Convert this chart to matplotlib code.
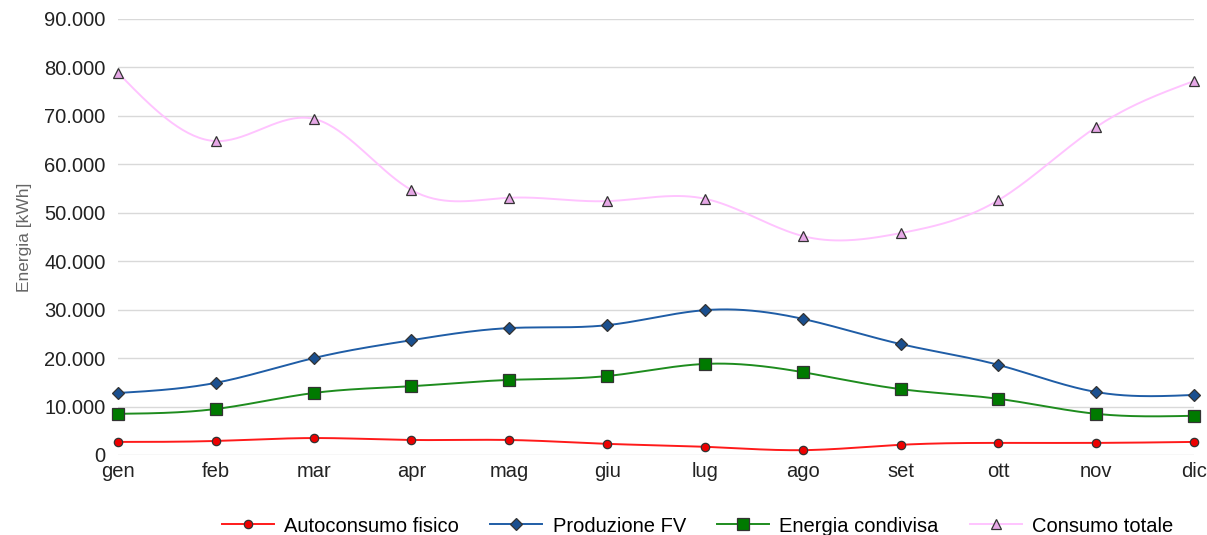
import numpy as np
import matplotlib.pyplot as plt
from matplotlib.ticker import FuncFormatter

plt.rcParams['font.family'] = ['Liberation Sans', 'DejaVu Sans']

mesi = ['gen', 'feb', 'mar', 'apr', 'mag', 'giu', 'lug', 'ago', 'set', 'ott', 'nov', 'dic']
autoconsumo = [2700, 2900, 3500, 3100, 3100, 2300, 1700, 1000, 2100, 2500, 2500, 2700]
produzione = [12800, 14900, 20000, 23700, 26200, 26800, 29900, 28100, 22900, 18600, 13000, 12400]
condivisa = [8500, 9500, 12800, 14200, 15500, 16300, 18800, 17100, 13600, 11600, 8500, 8100]
consumo = [78900, 64800, 69400, 54700, 53100, 52400, 52900, 45200, 45800, 52600, 67700, 77200]


def spline(x, y, n=400):
    # natural cubic spline, just for drawing the smooth line
    x = np.asarray(x, float)
    y = np.asarray(y, float)
    k = len(x)
    h = np.diff(x)
    A = np.zeros((k, k))
    b = np.zeros(k)
    A[0, 0] = A[-1, -1] = 1
    for i in range(1, k - 1):
        A[i, i - 1] = h[i - 1]
        A[i, i] = 2 * (h[i - 1] + h[i])
        A[i, i + 1] = h[i]
        b[i] = 6 * ((y[i + 1] - y[i]) / h[i] - (y[i] - y[i - 1]) / h[i - 1])
    M = np.linalg.solve(A, b)
    xs = np.linspace(x[0], x[-1], n)
    idx = np.clip(np.searchsorted(x, xs) - 1, 0, k - 2)
    x0, x1 = x[idx], x[idx + 1]
    hh = x1 - x0
    ys = (M[idx] * (x1 - xs) ** 3 / (6 * hh) + M[idx + 1] * (xs - x0) ** 3 / (6 * hh)
          + (y[idx] / hh - M[idx] * hh / 6) * (x1 - xs)
          + (y[idx + 1] / hh - M[idx + 1] * hh / 6) * (xs - x0))
    return xs, ys


fig = plt.figure(figsize=(12.07, 5.35), dpi=100)
ax = fig.add_axes([118 / 1207, 80 / 535, (1194 - 118) / 1207, (455 - 19) / 535])

x = np.arange(len(mesi))
series = [
    (autoconsumo, 'Autoconsumo fisico', '#ff1a1a', 'o', '#ee0000', 6),
    (produzione, 'Produzione FV', '#1f5da6', 'D', '#1a4f8f', 6),
    (condivisa, 'Energia condivisa', '#1e8c1e', 's', '#007a00', 8),
    (consumo, 'Consumo totale', '#ffc4ff', '^', '#e6a8e6', 7.5),
]
handles = []
for vals, name, lc, mk, fc, ms in series:
    xs, ys = spline(x, vals)
    ax.plot(xs, ys, color=lc, lw=1.4, zorder=2, clip_on=False)
    ax.plot(x, vals, linestyle='none', marker=mk, ms=ms, mfc=fc, mec='#333333', mew=0.9, zorder=3,
            clip_on=False)
    h, = ax.plot([], [], color=lc, lw=1.4, marker=mk, ms=ms, mfc=fc, mec='#333333', mew=0.9, label=name)
    handles.append(h)

ax.set_xlim(0, 11)
ax.set_ylim(0, 90000)
ax.set_yticks(np.arange(0, 90001, 10000))
ax.yaxis.set_major_formatter(FuncFormatter(lambda v, p: f'{int(v):,}'.replace(',', '.')))
ax.set_xticks(x)
ax.set_xticklabels(mesi)
ax.grid(axis='y', color='#d9d9d9', lw=1)
ax.set_axisbelow(True)
for s in ax.spines.values():
    s.set_visible(False)
ax.tick_params(length=0, labelsize=14.5, colors='#222222')
ax.tick_params(axis='x', pad=5)
ax.tick_params(axis='y', pad=9)
fig.text(25 / 1207, 1 - 237 / 535, 'Energia [kWh]', rotation=90, va='center', ha='center',
         fontsize=12.5, color='#666666')

fig.legend(handles=handles, loc='center', bbox_to_anchor=(0.578, 1 - 526 / 535), ncol=4,
           frameon=False, fontsize=14.5, handlelength=2.6, columnspacing=1.55, handletextpad=0.5)

fig.savefig('out.png', dpi=100)
